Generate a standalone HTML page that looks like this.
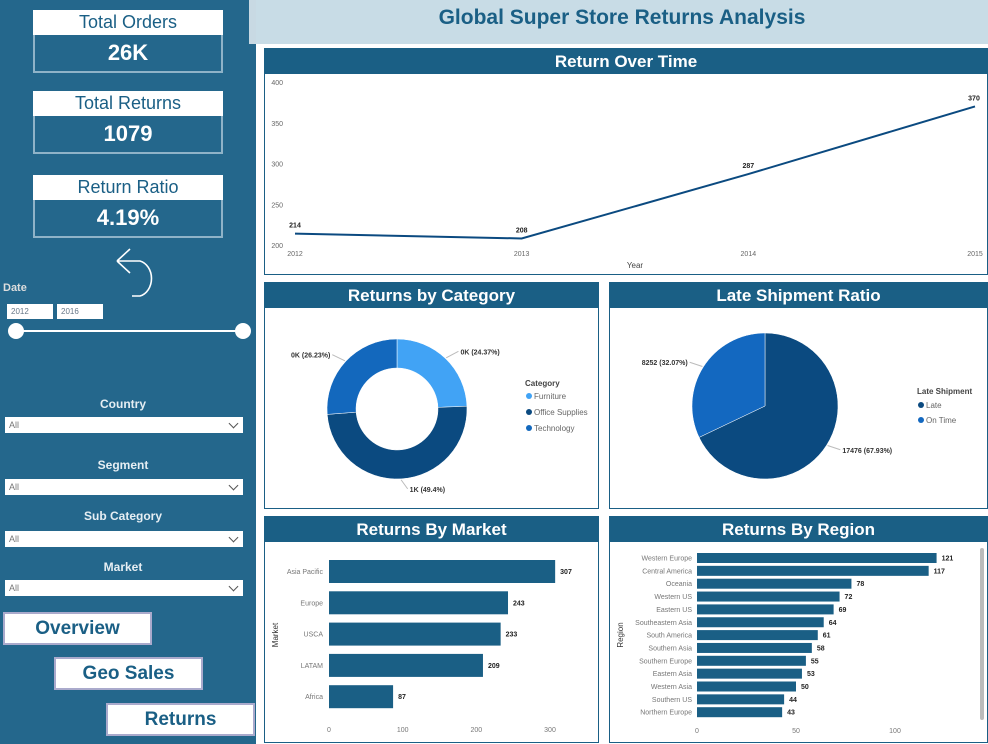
<!DOCTYPE html>
<html><head><meta charset="utf-8">
<style>
*{box-sizing:border-box;margin:0;padding:0}
body{width:988px;height:744px;position:relative;overflow:hidden;background:#fff;font-family:"Liberation Sans",sans-serif}
.abs{position:absolute}
#side{left:0;top:0;width:256px;height:744px;background:#24678c}
.card-l{position:absolute;left:33px;width:190px;height:25px;background:#fff;color:#1a5f85;font-size:18px;text-align:center;line-height:25px}
.card-v{position:absolute;left:33px;width:190px;height:38px;border:2px solid #8fb3c8;border-top:none;color:#fff;font-weight:bold;font-size:22px;text-align:center;line-height:36px}
.flab{position:absolute;left:0;width:246px;text-align:center;color:#e6eef3;font-size:12px;font-weight:bold}
.dd{position:absolute;left:5px;width:238px;height:16px;background:#fff;font-size:9px;color:#777;padding-left:4px;line-height:16px}
.dd:after{content:"";position:absolute;right:6px;top:3px;width:6px;height:6px;border-right:1px solid #555;border-bottom:1px solid #555;transform:rotate(45deg)}
.btn{position:absolute;width:149px;height:33px;background:#fff;border:2px solid #aac;color:#1a5f85;font-weight:bold;font-size:19px;text-align:center;line-height:29px}
.panel{position:absolute;border:1px solid #1a5f85;background:#fff}
.ph{position:absolute;left:0;top:0;right:0;height:25px;background:#1a5f85;color:#fff;font-weight:bold;font-size:17px;text-align:center;line-height:25px}
svg text{font-family:"Liberation Sans",sans-serif}
</style></head><body>
<div id="side" class="abs">
 <div class="card-l" style="top:10px">Total Orders</div>
 <div class="card-v" style="top:35px">26K</div>
 <div class="card-l" style="top:91px">Total Returns</div>
 <div class="card-v" style="top:116px">1079</div>
 <div class="card-l" style="top:175px">Return Ratio</div>
 <div class="card-v" style="top:200px">4.19%</div>
 <svg class="abs" style="left:110px;top:246px" width="55" height="55"><path d="M7 15 H30 A15 18 0 0 1 30 50 H22 M7 15 L20 3 M7 15 L20 27" fill="none" stroke="#fff" stroke-width="1.6"/></svg>
 <div class="abs" style="left:3px;top:282px;color:#ddd;font-size:11px;font-weight:bold">Date</div>
 <div class="abs" style="left:7px;top:304px;width:46px;height:15px;background:#fff;font-size:8px;color:#678;padding:3px 4px">2012</div>
 <div class="abs" style="left:57px;top:304px;width:46px;height:15px;background:#fff;font-size:8px;color:#678;padding:3px 4px">2016</div>
 <div class="abs" style="left:16px;top:330px;width:227px;height:2px;background:#fff"></div>
 <div class="abs" style="left:8px;top:323px;width:16px;height:16px;border-radius:50%;background:#fff"></div>
 <div class="abs" style="left:235px;top:323px;width:16px;height:16px;border-radius:50%;background:#fff"></div>
 <div class="flab" style="top:397px">Country</div>
 <div class="dd" style="top:417px">All</div>
 <div class="flab" style="top:458px">Segment</div>
 <div class="dd" style="top:479px">All</div>
 <div class="flab" style="top:509px">Sub Category</div>
 <div class="dd" style="top:531px">All</div>
 <div class="flab" style="top:560px">Market</div>
 <div class="dd" style="top:580px">All</div>
 <div class="btn" style="left:3px;top:612px">Overview</div>
 <div class="btn" style="left:54px;top:657px">Geo Sales</div>
 <div class="btn" style="left:106px;top:703px">Returns</div>
</div>
<div class="abs" style="left:249px;top:0;width:7px;height:44px;background:#c8d9e3"></div>
<div class="abs" style="left:256px;top:0;width:732px;height:44px;background:#c8dce6;color:#1a5f85;font-weight:bold;font-size:21px;text-align:center;line-height:36px">Global Super Store Returns Analysis</div>

<div class="panel" style="left:264px;top:48px;width:724px;height:227px"><div class="ph">Return Over Time</div></div>
<div class="panel" style="left:264px;top:282px;width:335px;height:227px"><div class="ph">Returns by Category</div></div>
<div class="panel" style="left:609px;top:282px;width:379px;height:227px"><div class="ph">Late Shipment Ratio</div></div>
<div class="panel" style="left:264px;top:516px;width:335px;height:227px"><div class="ph">Returns By Market</div></div>
<div class="panel" style="left:609px;top:516px;width:379px;height:227px"><div class="ph">Returns By Region</div></div>
<div class="abs" style="left:980px;top:548px;width:4px;height:172px;background:#bbb;border-radius:2px"></div>

<svg id="chart" class="abs" style="left:0;top:0" width="988" height="744"></svg>
<script>
const years=["2012","2013","2014","2015"];
const returnsByYear=[214,208,287,370];
const yTicks=[200,250,300,350,400];
const catNames=["Furniture","Office Supplies","Technology"];
const catPct=[24.37,49.4,26.23];
const catLabels=["0K (24.37%)","1K (49.4%)","0K (26.23%)"];
const shipNames=["Late","On Time"];
const shipVals=[17476,8252];
const shipPct=[67.93,32.07];
const markets=["Asia Pacific","Europe","USCA","LATAM","Africa"];
const marketVals=[307,243,233,209,87];
const marketTicks=[0,100,200,300];
const regions=["Western Europe","Central America","Oceania","Western US","Eastern US","Southeastern Asia","South America","Southern Asia","Southern Europe","Eastern Asia","Western Asia","Southern US","Northern Europe"];
const regionVals=[121,117,78,72,69,64,61,58,55,53,50,44,43];
const regionTicks=[0,50,100];

const svg=document.getElementById('chart');const NS='http://www.w3.org/2000/svg';
function mk(tag,a,txt){const e=document.createElementNS(NS,tag);for(const k in a)e.setAttribute(k,a[k]);if(txt!==undefined)e.textContent=txt;svg.appendChild(e);return e;}
// line chart
const lx=i=>295+i*(975-295)/(years.length-1);
const ly=v=>245-(v-200)*(245-82)/200;
yTicks.forEach(t=>{const e=mk('text',{x:283,y:ly(t)+3,'font-size':7,fill:'#666','text-anchor':'end'},t);});
years.forEach((y,i)=>{const e=mk('text',{x:lx(i),y:256,'font-size':7,fill:'#666','text-anchor':'middle'},y);});
{const e=mk('text',{x:635,y:268,'font-size':8,fill:'#444','text-anchor':'middle'},'Year');}
{const e=mk('polyline',{points:returnsByYear.map((v,i)=>lx(i)+','+ly(v)).join(' '),fill:'none',stroke:'#0b4a80','stroke-width':2});}
returnsByYear.forEach((v,i)=>{const e=mk('text',{x:lx(i)+(i==3?-1:0),y:ly(v)-6,'font-size':7,'font-weight':'bold',fill:'#222','text-anchor':'middle'},v);});
// arcs
function arcPath(cx,cy,r,ri,a0,a1){const p=(a,rr)=>[cx+rr*Math.sin(a),cy-rr*Math.cos(a)];const L=a1-a0>Math.PI?1:0;const [x0,y0]=p(a0,r),[x1,y1]=p(a1,r);if(ri>0){const [x2,y2]=p(a1,ri),[x3,y3]=p(a0,ri);return `M${x0},${y0}A${r},${r} 0 ${L} 1 ${x1},${y1}L${x2},${y2}A${ri},${ri} 0 ${L} 0 ${x3},${y3}Z`;}return `M${cx},${cy}L${x0},${y0}A${r},${r} 0 ${L} 1 ${x1},${y1}Z`;}
const catCols=['#41a3f5','#0b4a80','#1368bd'];
let a=0;const tot=catPct.reduce((s,v)=>s+v,0);
catPct.forEach((v,i)=>{const a1=a+v/tot*2*Math.PI;const e=mk('path',{d:arcPath(397,409,70,41,a,a1),fill:catCols[i],stroke:'#fff','stroke-width':0.5});
 const m=(a+a1)/2;const lxp=397+80*Math.sin(m),lyp=409-80*Math.cos(m);const right=Math.sin(m)>=0;
 mk('line',{x1:397+71*Math.sin(m),y1:409-71*Math.cos(m),x2:lxp+(right?6:-6),y2:lyp,stroke:'#bbb'});
 const t=mk('text',{x:lxp+(right?8:-8),y:lyp+3,'font-size':7,'font-weight':'bold',fill:'#333','text-anchor':right?'start':'end'},catLabels[i]);a=a1;});
{const e=mk('text',{x:525,y:386,'font-size':8,'font-weight':'bold',fill:'#444'},'Category');}
catNames.forEach((n,i)=>{mk('circle',{cx:529,cy:396+i*16,r:3,fill:catCols[i]});const e=mk('text',{x:534,y:399+i*16,'font-size':8,fill:'#666'},n);});
const shipCols=['#0b4a80','#1368c0'];a=0;const st=shipVals.reduce((s,v)=>s+v,0);
shipVals.forEach((v,i)=>{const a1=a+v/st*2*Math.PI;const e=mk('path',{d:arcPath(765,406,73,0,a,a1),fill:shipCols[i],stroke:'#fff','stroke-width':0.5});
 const m=(a+a1)/2;const lxp=765+82*Math.sin(m),lyp=406-82*Math.cos(m);const right=Math.sin(m)>=0;
 mk('line',{x1:765+74*Math.sin(m),y1:406-74*Math.cos(m),x2:lxp+(right?6:-6),y2:lyp,stroke:'#bbb'});
 const t=mk('text',{x:lxp+(right?8:-8),y:lyp+3,'font-size':7,'font-weight':'bold',fill:'#333','text-anchor':right?'start':'end'},v+' ('+shipPct[i]+'%)');a=a1;});
{const e=mk('text',{x:917,y:394,'font-size':8,'font-weight':'bold',fill:'#444'},'Late Shipment');}
shipNames.forEach((n,i)=>{mk('circle',{cx:921,cy:405+i*15,r:3,fill:shipCols[i]});const e=mk('text',{x:926,y:408+i*15,'font-size':8,fill:'#666'},n);});
// market bars
const mx=v=>329+v*(550-329)/300;
marketTicks.forEach(t=>{const e=mk('text',{x:mx(t),y:732,'font-size':7,fill:'#777','text-anchor':'middle'},t);});
{const e=mk('text',{x:0,y:0,'font-size':8,fill:'#333','text-anchor':'middle',transform:'translate(278,635) rotate(-90)'},'Market');}
markets.forEach((m,i)=>{const y=560+i*31.3;const b=mk('rect',{x:329,y:y,width:mx(marketVals[i])-329,height:23,fill:'#1a5f85'});
 const l=mk('text',{x:323,y:y+14,'font-size':7,fill:'#777','text-anchor':'end'},m);
 const v=mk('text',{x:mx(marketVals[i])+5,y:y+14,'font-size':7,'font-weight':'bold',fill:'#222'},marketVals[i]);});
// region bars
const rx=v=>697+v*(895-697)/100;
regionTicks.forEach(t=>{const e=mk('text',{x:rx(t),y:733,'font-size':7,fill:'#777','text-anchor':'middle'},t);});
{const e=mk('text',{x:0,y:0,'font-size':8,fill:'#333','text-anchor':'middle',transform:'translate(623,635) rotate(-90)'},'Region');}
regions.forEach((r,i)=>{const cy=558+i*12.85;const b=mk('rect',{x:697,y:cy-5,width:rx(regionVals[i])-697,height:10,fill:'#1a5f85'});
 const l=mk('text',{x:692,y:cy+2.5,'font-size':7,fill:'#777','text-anchor':'end'},r);
 const v=mk('text',{x:rx(regionVals[i])+5,y:cy+2.5,'font-size':7,'font-weight':'bold',fill:'#222'},regionVals[i]);});
</script>
</body></html>
